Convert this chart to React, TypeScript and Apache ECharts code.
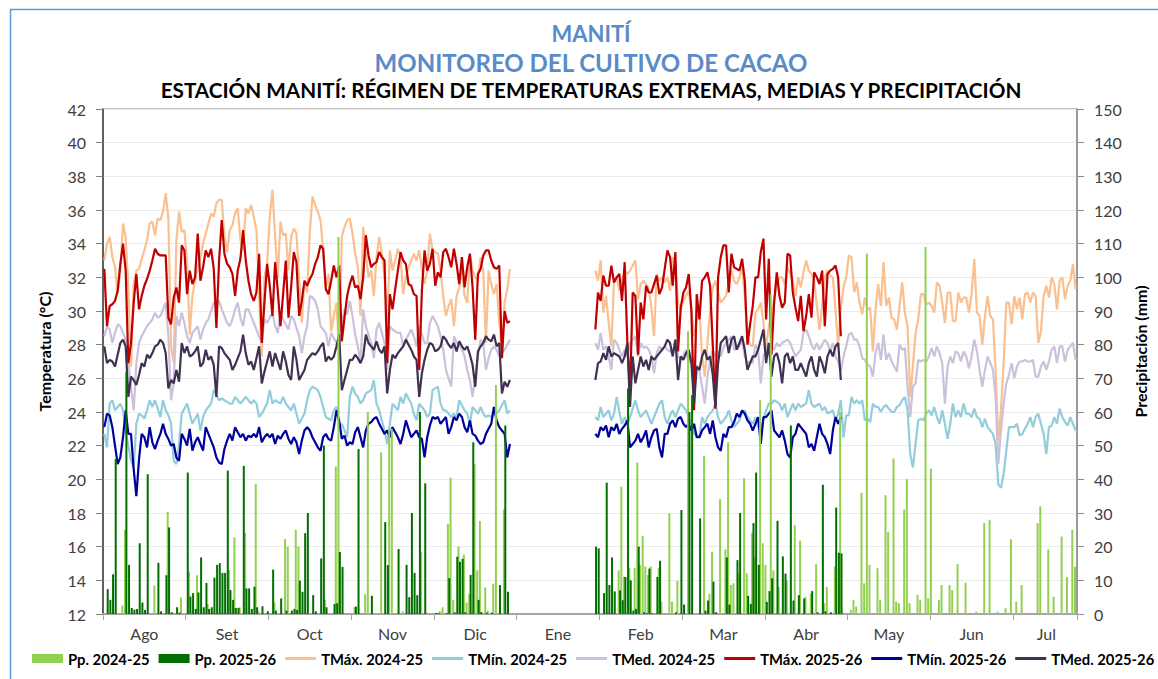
import React, { useEffect, useRef } from "react";
import * as echarts from "echarts";

const FONT = "Lato, 'Open Sans', sans-serif";

// Month blocks of 31 daily categories (Excel category axis), labels centred in each block
const monthNames = ["Ago", "Set", "Oct", "Nov", "Dic", "Ene", "Feb", "Mar", "Abr", "May", "Jun", "Jul"];
const monthDays = [31, 30, 31, 30, 31, 31, 28, 31, 30, 31, 30, 31];
const monthLabelIdx = [15, 46, 77, 108, 139, 170, 201, 232, 263, 294, 325, 353];
const monthTickEvery = 31;

// Segment A = 1 Ago .. 31 Dic (153 days); Segment B = from 1 Feb
const janGapDays = 31;

const tmax2425A = [
  33.0,34.0,34.4,33.2,32.6,31.0,32.4,35.2,34.4,31.4,
  26.7,31.6,32.4,32.5,33.1,33.6,34.2,35.2,35.3,34.5,
  35.5,35.4,35.9,37.0,35.5,27.9,26.9,34.2,35.9,34.7,
  34.8,32.9,28.6,30.9,31.8,32.6,33.2,34.0,34.6,35.2,
  35.8,35.6,36.4,36.6,36.6,34.4,33.5,34.8,35.1,35.8,
  36.1,34.2,33.6,36.1,35.8,36.3,35.6,34.8,31.0,27.3,
  32.0,32.8,35.6,37.2,34.4,32.0,35.3,34.5,34.6,32.4,
  34.4,34.9,34.6,32.0,29.3,31.8,31.1,34.7,36.8,36.3,
  35.9,35.4,33.6,31.4,32.2,28.8,29.7,30.5,27.7,34.4,
  35.0,35.4,35.5,34.6,33.4,32.6,29.7,35.0,33.4,32.0,
  32.4,30.9,33.2,34.4,33.4,32.0,29.3,33.6,32.4,33.0,
  33.7,33.2,31.0,32.0,32.6,33.0,33.4,33.0,33.6,32.5,
  31.6,32.4,34.6,33.6,33.5,33.4,32.4,30.9,29.7,30.3,
  30.7,29.1,30.9,31.4,32.4,30.9,30.5,33.4,32.4,32.0,
  31.8,33.2,32.4,28.1,32.4,31.6,31.0,31.6,29.3,27.7,
  30.5,31.3,32.5,
];
const tmin2425A = [
  22.7,21.9,24.5,24.7,24.1,24.3,24.5,24.1,22.9,22.0,
  21.1,20.7,23.3,23.9,23.8,23.6,24.1,24.7,24.3,24.7,
  24.2,23.7,24.7,24.1,23.8,23.3,21.1,20.9,22.1,23.9,
  24.2,24.5,23.9,23.3,23.6,23.9,22.9,23.7,24.1,24.3,
  24.5,25.3,25.0,24.7,24.8,24.7,24.6,24.5,24.5,24.9,
  24.7,24.5,24.7,24.9,24.7,24.5,24.7,24.5,23.7,23.9,
  24.2,24.5,25.3,24.5,24.7,24.6,24.5,24.9,24.5,24.3,
  24.1,24.5,23.9,23.3,23.6,23.9,24.7,25.3,25.5,25.4,
  25.3,24.9,24.3,23.7,23.6,23.5,24.1,24.3,23.1,23.3,
  22.9,22.5,24.9,25.5,25.1,24.9,24.5,24.7,25.1,25.2,
  25.3,25.9,24.5,24.1,23.5,22.9,22.1,23.3,24.5,24.3,
  24.1,24.9,24.5,25.1,24.8,24.5,23.9,23.5,24.5,24.3,
  24.1,23.7,23.9,25.3,25.4,25.5,24.5,24.1,24.1,23.9,
  23.7,23.9,23.7,24.7,24.4,24.1,23.9,23.3,24.3,24.1,
  23.9,24.3,23.9,23.7,23.8,23.7,24.1,23.9,24.1,24.4,
  24.7,23.9,24.1,
];
const tmed2425A = [
  28.5,29.1,28.9,28.1,28.7,29.2,29.1,28.7,28.3,27.0,
  25.5,24.1,26.9,28.1,28.5,28.8,29.1,29.3,29.5,29.9,
  29.6,29.7,30.1,30.5,28.5,24.7,25.7,29.7,29.1,29.9,
  29.3,28.5,28.1,28.7,28.9,29.1,28.3,28.9,29.3,29.5,
  30.0,30.5,30.4,30.6,30.1,29.7,29.3,29.1,29.5,30.1,
  30.5,29.6,29.1,30.1,30.1,29.7,29.3,28.9,28.5,28.1,
  29.5,29.3,29.6,29.9,29.1,28.7,29.9,29.5,29.2,28.9,
  29.7,29.5,29.0,28.5,27.5,28.5,29.1,30.9,30.8,30.6,
  30.1,29.1,28.9,28.7,27.9,28.7,28.4,28.1,27.7,29.3,
  30.1,29.8,30.6,29.7,28.6,27.9,26.9,30.1,29.1,28.6,
  28.1,27.2,28.9,29.3,28.7,28.1,26.5,29.1,28.9,28.8,
  28.7,28.7,27.9,28.3,28.6,28.9,28.5,27.9,29.1,28.6,
  28.1,28.1,29.3,29.7,29.4,29.1,28.5,27.7,26.5,26.0,
  25.5,28.5,28.1,28.1,27.7,27.3,26.5,25.9,24.9,26.1,
  27.3,28.3,28.1,26.5,27.2,27.7,27.9,27.7,27.3,27.5,
  27.7,28.0,28.3,
];
const tmax2526A = [
  32.5,29.1,30.3,30.4,30.6,31.2,32.8,34.0,32.4,26.9,
  28.1,30.5,32.2,30.1,30.9,31.5,31.9,32.4,33.0,33.7,
  33.4,33.3,33.3,33.3,29.6,29.2,30.8,31.4,30.5,33.9,
  33.6,31.0,32.4,31.6,32.0,34.6,31.8,32.6,33.6,33.2,
  33.7,32.5,29.0,33.0,35.4,33.4,32.8,32.6,32.2,30.9,
  32.4,33.1,34.8,33.0,31.8,31.0,30.6,31.1,33.4,28.1,
  30.5,32.8,31.5,29.7,32.9,31.2,29.1,31.0,33.0,29.6,
  31.4,33.5,32.9,29.7,30.6,31.8,31.5,31.9,32.2,32.8,
  33.2,33.9,33.7,31.3,31.0,31.8,32.7,32.0,32.7,28.2,
  29.6,30.9,31.6,32.1,31.4,31.5,30.7,32.0,34.5,33.3,
  32.6,32.8,32.9,33.5,33.2,33.0,26.9,31.0,30.1,31.3,
  32.4,33.5,33.0,32.8,31.6,31.5,31.0,30.9,26.5,31.2,
  33.6,32.4,32.8,33.7,31.5,32.3,32.0,33.5,33.7,33.2,
  32.6,33.7,32.8,31.6,33.2,31.4,32.6,33.4,31.4,28.3,
  32.2,32.5,33.3,33.6,33.6,33.0,32.6,32.5,32.7,27.2,
  30.0,29.3,29.4,
];
const tmin2526A = [
  23.1,23.9,23.8,23.1,22.0,20.9,21.3,22.5,24.1,22.7,
  22.7,20.6,19.0,21.2,22.7,22.5,21.9,23.1,22.2,21.8,
  22.3,22.7,23.3,22.7,22.4,22.0,22.1,21.3,21.1,22.7,
  22.4,22.0,23.0,21.7,22.2,22.5,22.1,21.7,23.1,22.7,
  22.3,21.9,21.3,21.0,20.9,21.8,22.3,22.7,22.3,23.1,
  22.8,22.5,22.7,22.3,22.6,22.5,22.7,22.5,23.1,22.2,
  22.5,22.7,22.5,22.7,22.1,22.6,22.4,22.7,22.9,22.4,
  22.1,22.5,22.2,21.5,22.3,22.9,23.1,22.9,22.5,22.2,
  21.9,21.7,22.5,22.7,22.4,22.3,23.1,24.1,23.5,22.4,
  22.6,22.0,22.2,22.1,22.8,23.1,22.5,21.9,22.9,23.3,
  23.4,23.6,23.7,23.3,23.0,22.7,22.9,22.5,23.1,22.8,
  22.5,22.1,22.7,23.5,23.0,22.5,22.7,22.9,22.5,22.4,
  21.3,22.5,23.2,23.7,23.6,23.7,23.3,23.5,23.7,22.7,
  23.1,23.7,23.5,23.9,23.7,23.1,22.8,23.5,22.7,22.6,
  22.3,22.1,22.2,22.7,23.0,23.3,24.3,23.5,23.1,22.9,
  22.7,21.3,22.1,
];
const tmed2526A = [
  27.9,26.9,27.1,27.0,26.7,27.4,28.1,28.3,27.9,24.9,
  26.1,25.9,25.6,26.2,26.9,26.7,27.4,27.2,27.5,27.9,
  28.0,28.3,28.1,27.5,25.4,25.9,25.7,26.5,25.8,28.1,
  27.5,27.9,27.3,27.4,27.6,27.9,26.7,26.9,27.7,27.1,
  27.3,26.8,24.9,27.9,27.8,27.5,27.3,27.1,26.5,26.8,
  27.2,27.6,28.6,27.5,26.8,27.0,26.5,27.2,27.9,25.7,
  26.4,27.0,27.6,26.7,27.5,27.0,26.5,27.6,27.0,26.2,
  25.9,27.9,27.1,25.9,26.2,26.5,27.1,27.3,27.5,27.4,
  27.6,27.9,28.1,27.0,27.3,27.1,27.3,27.9,28.6,25.3,
  25.9,26.5,27.1,27.1,27.4,27.2,26.9,27.3,28.6,28.1,
  27.9,27.7,28.2,27.7,27.5,27.9,25.1,26.5,27.4,27.2,
  27.5,27.7,27.9,28.3,28.0,27.7,27.3,27.1,24.9,26.3,
  27.1,27.7,28.1,28.0,27.6,27.7,27.9,28.5,28.3,28.0,
  27.8,28.1,27.6,28.2,27.9,27.7,27.9,27.4,26.8,25.5,
  27.6,27.9,28.1,28.5,28.3,28.2,28.6,27.9,28.1,25.1,
  25.8,25.5,25.9,
];

const tmax2425B = [
  32.4,31.8,33.0,29.9,30.9,29.3,27.9,31.8,32.0,31.2,
  31.8,32.4,32.2,32.4,32.7,33.0,30.7,31.6,31.8,31.6,
  31.4,30.2,28.5,32.2,31.8,32.0,31.7,32.0,31.2,33.2,
  32.8,30.5,30.1,30.6,30.9,31.2,30.1,28.5,29.4,30.1,
  27.3,26.1,28.1,30.0,31.4,31.8,31.1,30.5,30.7,30.9,
  31.8,32.4,31.8,31.6,32.0,32.6,30.9,28.5,28.0,27.9,
  29.9,30.1,30.5,29.3,27.9,29.1,29.7,30.7,31.5,32.0,
  32.0,31.6,32.6,32.2,31.8,30.9,32.0,31.4,32.3,33.0,
  32.4,32.2,31.8,30.3,28.9,30.3,32.0,32.4,32.1,32.0,
  30.1,27.9,30.2,31.4,32.0,33.3,33.2,31.1,31.7,30.5,
  29.8,30.8,30.1,30.2,27.6,30.1,31.6,30.3,32.9,30.3,
  30.8,29.6,29.5,28.9,30.3,31.7,29.9,29.1,24.9,26.7,
  28.7,29.5,31.0,31.0,30.4,30.5,30.3,29.9,31.7,31.5,
  30.5,29.3,31.1,31.1,29.4,29.4,31.1,30.5,30.8,30.8,
  29.9,31.0,33.1,29.9,29.7,28.0,29.7,30.9,29.7,29.5,
  26.5,22.3,24.1,26.9,30.5,30.5,29.2,30.9,30.1,30.8,
  29.5,31.0,31.1,30.5,31.1,30.9,28.1,28.8,30.9,31.5,
  30.8,32.0,31.6,30.1,31.8,32.0,30.7,31.5,31.8,32.8,
  31.3,
];
const tmin2425B = [
  23.7,23.5,24.3,23.7,23.9,24.1,23.5,23.9,24.9,24.0,
  23.3,23.7,23.3,23.7,24.2,24.7,24.1,23.7,23.9,24.1,
  23.7,23.3,23.7,24.1,24.5,24.7,23.7,23.3,23.8,24.1,
  23.7,24.1,24.5,24.3,24.1,23.7,23.3,22.7,22.6,22.5,
  23.7,23.3,23.7,23.9,24.1,24.5,23.7,23.3,23.5,23.7,
  24.1,23.5,23.1,23.3,23.5,23.9,24.1,23.7,23.5,23.3,
  23.7,23.1,22.9,23.6,24.1,24.5,24.5,24.7,24.6,24.5,
  24.1,24.5,23.7,24.1,24.5,24.1,24.5,24.3,24.4,24.5,
  25.3,24.5,24.3,24.4,24.5,24.1,24.3,23.9,24.0,24.1,
  23.5,23.9,24.7,22.5,23.8,23.8,24.9,24.5,24.7,24.5,
  24.7,23.5,23.6,23.4,24.5,24.3,24.3,24.0,24.3,24.4,
  24.2,24.0,24.0,24.3,24.4,24.7,24.9,24.1,21.5,20.7,
  22.1,23.5,23.6,23.5,23.9,24.1,23.8,24.3,23.7,23.3,
  24.1,23.3,22.4,23.3,24.5,23.7,24.1,23.7,24.5,23.9,
  23.9,23.7,24.2,23.7,23.6,23.1,23.6,23.1,22.9,22.7,
  22.1,19.7,19.5,20.3,21.7,23.1,23.1,23.1,23.3,22.6,
  22.7,23.0,23.3,23.7,23.1,23.7,23.9,23.3,22.7,21.5,
  23.1,23.2,23.7,23.3,24.2,23.7,23.4,23.2,23.7,23.3,
  22.9,
];
const tmed2425B = [
  28.1,27.7,28.7,27.7,27.9,27.3,26.5,28.3,28.1,27.7,
  27.3,27.7,27.3,28.1,28.3,28.5,27.3,28.1,27.8,27.9,
  27.7,27.3,26.3,27.5,27.9,27.7,27.9,27.7,27.6,27.5,
  28.3,27.3,27.1,27.4,27.7,26.9,27.3,26.9,26.7,26.5,
  25.5,24.5,26.1,27.0,27.7,27.3,27.6,27.3,27.8,28.1,
  28.3,28.5,27.7,27.8,27.9,28.3,27.3,26.9,27.0,26.9,
  28.0,27.7,25.7,27.3,27.7,28.1,27.9,27.7,28.1,27.9,
  28.1,28.2,28.3,28.1,27.7,27.3,27.5,27.7,28.7,28.9,
  28.5,28.0,27.7,28.1,27.7,28.0,28.3,28.1,27.6,28.1,
  27.3,27.0,26.4,27.3,27.9,28.6,28.7,28.3,28.3,27.9,
  27.2,27.1,26.8,26.7,26.1,27.5,28.1,27.1,28.6,27.1,
  27.5,27.0,26.7,26.4,28.0,27.7,27.8,25.5,23.7,25.5,
  25.7,27.1,27.0,27.1,27.0,27.3,27.8,27.3,27.9,27.5,
  26.9,24.5,26.7,27.3,26.9,27.6,27.5,27.0,27.6,27.3,
  26.6,27.3,28.3,27.6,26.5,25.5,26.5,27.3,26.9,26.5,
  24.9,20.9,22.9,24.5,25.7,26.2,26.9,26.0,26.7,27.0,
  27.0,27.1,27.0,27.0,27.1,26.1,26.1,26.7,27.0,26.5,
  27.0,27.7,27.9,26.9,27.9,27.9,27.0,27.7,27.9,28.1,
  27.1,
];
const tmax2526B = [
  28.9,31.1,30.6,32.1,31.5,31.5,32.7,31.7,32.0,32.2,
  30.6,32.9,28.1,25.2,31.1,30.9,27.4,30.5,29.5,31.5,
  31.1,31.1,31.6,32.1,31.0,31.4,32.5,33.6,33.2,31.5,
  33.5,27.6,30.2,31.1,31.4,32.2,30.0,24.1,31.0,29.5,
  31.8,32.0,32.3,31.5,28.0,24.2,32.0,33.2,33.9,33.9,
  31.1,33.4,32.6,32.5,32.4,33.1,31.8,28.0,29.2,30.3,
  32.0,32.0,33.5,34.3,29.5,33.1,27.4,30.5,32.3,30.9,
  30.2,30.5,33.4,33.3,31.1,30.2,29.4,30.9,28.8,29.7,
  31.0,29.6,32.3,32.0,31.6,32.4,29.1,32.2,32.4,32.5,
  32.7,32.0,28.5,
];
const tmin2526B = [
  22.7,22.5,23.1,22.9,23.2,22.5,23.1,22.9,23.3,22.7,
  23.0,23.2,23.5,21.9,22.1,22.3,22.7,22.2,22.5,22.9,
  21.9,22.5,22.9,23.0,21.9,21.3,22.7,22.7,23.3,23.5,
  23.1,23.6,23.7,23.3,23.1,23.3,22.9,23.3,22.5,22.5,
  22.9,23.1,23.3,22.7,23.5,22.5,21.9,21.7,22.7,22.5,
  23.1,23.1,23.4,23.9,23.7,24.1,23.9,23.5,23.3,22.9,
  23.3,23.7,22.1,23.7,23.7,23.9,24.1,22.9,22.7,22.5,
  22.9,22.3,21.5,21.3,22.5,22.7,23.3,23.1,22.9,22.7,
  21.9,22.1,21.7,22.5,23.3,22.7,22.5,22.1,21.5,22.9,
  23.7,23.3,23.7,
];
const tmed2526B = [
  25.9,26.9,27.0,27.5,27.1,27.9,27.3,27.5,27.4,27.3,
  26.9,27.3,28.1,24.3,27.3,25.7,26.5,27.3,26.7,27.1,
  26.5,27.3,27.1,27.3,27.5,27.7,27.9,28.3,28.1,27.3,
  28.3,25.9,27.3,27.1,27.5,27.7,26.9,24.5,26.7,26.5,
  27.3,27.7,27.1,27.3,26.2,24.3,26.9,28.1,28.3,28.5,
  27.5,28.3,28.5,27.7,28.1,28.5,27.7,26.5,26.9,27.3,
  27.3,27.7,28.3,28.9,26.9,28.1,26.1,27.3,27.5,26.9,
  25.7,27.3,27.5,26.9,27.3,26.5,26.5,26.9,26.5,26.1,
  26.9,27.3,26.5,26.1,27.3,26.9,26.3,27.3,27.7,27.3,
  27.9,28.1,25.9,
];

// Daily precipitation (mm): [day index from 1 Ago, mm]; days not listed had no rain
const pp2425: [number, number][] = [
  [7,2.5],[8,25],[19,8.5],[24,30.3],[29,4.9],[32,12.6],[35,11.5],[39,3],[47,13.1],[49,22.8],
  [51,2],[53,24.1],[57,38.6],[58,0.8],[64,3.4],[68,22.3],[69,20],[72,25],[73,20],[83,4.2],
  [87,43.8],[88,112],[94,2],[98,5.9],[99,60],[104,48],[107,55],[108,55],[112,0.8],[119,18.5],
  [126,0.8],[127,2],[129,26.8],[130,40.5],[131,4.2],[133,20],[135,17.6],[136,3.4],[137,5.9],[139,44.5],
  [140,13],[141,27.6],[143,7.9],[144,1],[146,9],[147,68],[150,31],
  [193,13],[194,37.8],[195,11.1],[197,13.6],[199,13.6],[200,45],[201,14.5],[202,23.2],[203,14.1],[204,11.6],
  [205,14.1],[208,13.6],[209,3.7],[212,29.9],[213,3.7],[215,9.8],[219,84],[225,47],[227,6],[228,18.5],
  [231,34.1],[233,19.2],[234,51],[235,8.6],[236,9.1],[238,12.1],[240,40.3],[241,12.1],[243,24.1],[244,16.9],
  [246,63.5],[247,21],[248,14.6],[250,95],[251,13],[253,8],[256,10],[259,26.4],[261,21.8],[263,5.1],
  [265,6.1],[267,14.8],[270,3.2],[271,8],[274,14.1],[276,60],[280,1.2],[281,4.2],[282,2.2],[284,36],
  [285,9.1],[286,107],[287,14.6],[290,13.6],[291,4.2],[293,35.3],[294,24.4],[296,46.2],[297,3.7],[298,3.2],
  [300,31],[301,40],[302,3.2],[305,5.7],[306,4.2],[308,109],[309,4.7],[310,43.2],[313,4.2],[314,8.6],
  [317,8.6],[318,7.1],[320,14.8],[323,9.3],[327,0.7],[330,27],[332,28],[335,0.7],[338,1.7],[340,22.2],
  [342,3.7],[344,8.6],[350,27],[351,32],[354,19.2],[356,5.1],[359,23],[361,11],[363,25],[364,14],
];
const pp2526: [number, number][] = [
  [1,7.4],[2,4.2],[3,11.8],[4,46],[8,72],[9,14.6],[10,1.8],[11,1.3],[12,1.5],[13,21],
  [14,3.4],[15,1.2],[16,41.5],[20,15.2],[21,0.8],[23,11.5],[24,25.7],[25,0.5],[27,2],[28,0.4],
  [31,42],[32,5.2],[33,6.2],[34,1.5],[35,6.4],[36,16.8],[37,2],[38,9.2],[39,1.5],[40,2],
  [41,10.8],[42,14.6],[43,15.1],[44,12.2],[45,12.2],[46,42.6],[47,7.1],[48,4.2],[49,1.8],[50,1.8],
  [52,44],[53,7.6],[54,7.6],[55,1.5],[56,8.1],[57,2],[59,2.3],[61,0.8],[63,13.2],[64,1],
  [66,4.6],[68,1],[70,1],[71,1.5],[72,1.2],[73,9.9],[74,6.6],[75,24],[76,30],[78,5.6],
  [79,0.8],[81,16.5],[82,50],[83,2],[86,3],[87,3.2],[88,18.4],[89,14],[94,2.2],[95,49],
  [100,5.4],[105,27.3],[106,14.5],[110,19.3],[113,14.6],[114,5],[115,30],[116,12.2],[117,5.6],[118,60],
  [120,38.8],[124,0.3],[125,0.3],[128,0.3],[129,10.7],[131,0.5],[132,17],[133,15.5],[134,16.4],[135,0.5],
  [137,11.6],[138,51],[140,4.2],[141,0.6],[143,0.4],[145,0.4],[148,8.6],[150,56],[151,6.6],
  [184,20],[185,19.5],[187,6.2],[188,39],[189,8.6],[190,16.8],[191,6.7],[193,7],[194,4.1],[195,11],
  [196,67],[197,10],[198,1],[199,1.5],[200,20],[202,0.5],[203,0.3],[204,13.5],[205,0.2],[207,11],
  [208,15.8],[214,0.5],[216,30.9],[217,2.8],[219,60],[220,65],[223,28.4],[225,1],[226,4],[228,9.6],
  [229,0.5],[233,16.8],[234,2.8],[237,16],[238,30],[241,5.4],[242,3],[243,27],[244,42],[245,14.6],
  [248,3.6],[249,6.8],[250,10.6],[252,27.7],[254,17.1],[255,12],[257,56],[258,4],[260,5.6],[262,4.6],
  [265,6.8],[267,0.5],[269,38.4],[270,0.8],[272,0.5],[274,31.6],[275,18.2],[276,18],
];

const totalDays = monthDays.reduce((a, b) => a + b, 0);

function buildCategories(): string[] {
  const out: string[] = [];
  for (let m = 0; m < 12; m++) {
    for (let d = 1; d <= monthDays[m]; d++) out.push(`${d}-${monthNames[m]}`);
  }
  return out;
}

function joinSeason(a: number[], b: number[]): (number | null)[] {
  const out: (number | null)[] = [...a];
  while (out.length < a.length + janGapDays) out.push(null);
  out.push(...b);
  while (out.length < totalDays) out.push(null);
  return out;
}

function dailyFromPairs(pairs: [number, number][]): (number | null)[] {
  const out: (number | null)[] = new Array(totalDays).fill(null);
  pairs.forEach(([i, v]) => {
    out[i] = v;
  });
  return out;
}

const LINE_ICON = "path://M0,0L31,0L31,3L0,3Z";

export default function App() {
  const ref = useRef<HTMLDivElement>(null);

  useEffect(() => {
    document.body.style.margin = "0";
    const chart = echarts.init(ref.current!, undefined, { renderer: "svg" });
    const categories = buildCategories();

    const lineSeries = (name: string, data: (number | null)[], color: string) => ({
      name,
      type: "line",
      data,
      yAxisIndex: 0,
      symbol: "none",
      showSymbol: false,
      connectNulls: false,
      lineStyle: { width: 2.2, color },
      itemStyle: { color },
      z: 2,
    });

    const barSeries = (name: string, data: (number | null)[], color: string) => ({
      name,
      type: "bar",
      data,
      yAxisIndex: 1,
      barWidth: 2,
      barGap: "-30%",
      itemStyle: { color },
      z: 3,
    });

    const option = {
      animation: false,
      backgroundColor: "#ffffff",
      textStyle: { fontFamily: FONT },
      title: [
        {
          text: "MANITÍ",
          left: 586,
          textAlign: "center",
          top: 15,
          textStyle: { fontFamily: FONT, fontSize: 22, fontWeight: "bold", color: "#5A8AC8", lineHeight: 26 },
        },
        {
          text: "MONITOREO DEL CULTIVO DE CACAO",
          left: 586,
          textAlign: "center",
          top: 44,
          textStyle: { fontFamily: FONT, fontSize: 24, fontWeight: "bold", color: "#5A8AC8", lineHeight: 26 },
        },
        {
          text: "ESTACIÓN MANITÍ: RÉGIMEN DE TEMPERATURAS EXTREMAS, MEDIAS Y PRECIPITACIÓN",
          left: 586,
          textAlign: "center",
          top: 73,
          textStyle: { fontFamily: FONT, fontSize: 20.7, fontWeight: "bold", color: "#000000", lineHeight: 24 },
        },
      ],
      graphic: [
        {
          type: "rect",
          silent: true,
          z: -10,
          shape: { x: 10.5, y: 9.5, width: 1300, height: 800 },
          style: { fill: "none", stroke: "#5B9BD5", lineWidth: 1.5 },
        },
      ],
      legend: {
        left: 32,
        top: 651,
        padding: 0,
        width: 1400,
        itemWidth: 31,
        itemHeight: 9,
        itemGap: 9,
        textStyle: { fontFamily: FONT, fontSize: 14.8, fontWeight: "bold", color: "#000000" },
        data: [
          { name: "Pp. 2024-25", icon: "rect" },
          { name: "Pp. 2025-26", icon: "rect" },
          { name: "TMáx. 2024-25", icon: LINE_ICON },
          { name: "TMín. 2024-25", icon: LINE_ICON },
          { name: "TMed. 2024-25", icon: LINE_ICON },
          { name: "TMáx. 2025-26", icon: LINE_ICON },
          { name: "TMín. 2025-26", icon: LINE_ICON },
          { name: "TMed. 2025-26", icon: LINE_ICON },
        ],
      },
      grid: {
        left: 103,
        right: 81,
        top: 109,
        bottom: 65,
        show: true,
        borderColor: "#7F7F7F",
        borderWidth: 1,
      },
      xAxis: {
        type: "category",
        data: categories,
        boundaryGap: true,
        axisLine: { show: true, lineStyle: { color: "#A6A6A6", width: 2 } },
        axisTick: {
          show: true,
          alignWithLabel: false,
          interval: (i: number) => i % monthTickEvery === 0,
          length: 6,
          lineStyle: { color: "#A6A6A6", width: 1 },
        },
        axisLabel: {
          interval: (i: number) => monthLabelIdx.includes(i),
          formatter: (_v: string, i: number) => monthNames[monthLabelIdx.indexOf(i)] ?? "",
          margin: 11,
          fontSize: 16,
          color: "#404040",
          fontFamily: FONT,
        },
        splitLine: { show: false },
      },
      yAxis: [
        {
          type: "value",
          position: "left",
          min: 12,
          max: 42,
          interval: 2,
          name: "Temperatura (°C)",
          nameLocation: "middle",
          nameGap: 51,
          nameRotate: 90,
          nameTextStyle: { fontFamily: FONT, fontSize: 16, fontWeight: "bold", color: "#000000", padding: [0, 0, 0, 20] },
          axisLine: { show: true, lineStyle: { color: "#404040", width: 1.5 } },
          axisTick: { show: true, length: 7, lineStyle: { color: "#7F7F7F" } },
          axisLabel: { fontSize: 16, color: "#404040", margin: 17, fontFamily: FONT },
          splitLine: { show: true, lineStyle: { color: "#EBEBEB", width: 1 } },
        },
        {
          type: "value",
          position: "right",
          min: 0,
          max: 150,
          interval: 10,
          name: "Precipitación (mm)",
          nameLocation: "middle",
          nameGap: 52,
          nameRotate: 90,
          nameTextStyle: { fontFamily: FONT, fontSize: 16, fontWeight: "bold", color: "#000000", padding: [0, 0, 0, 20] },
          axisLine: { show: true, lineStyle: { color: "#8C8C8C", width: 1.5 } },
          axisTick: { show: true, length: 7, lineStyle: { color: "#8C8C8C" } },
          axisLabel: { fontSize: 16, color: "#404040", margin: 17, fontFamily: FONT },
          splitLine: { show: false },
        },
      ],
      series: [
        lineSeries("TMáx. 2024-25", joinSeason(tmax2425A, tmax2425B), "#FAC090"),
        lineSeries("TMín. 2024-25", joinSeason(tmin2425A, tmin2425B), "#92CDDC"),
        lineSeries("TMed. 2024-25", joinSeason(tmed2425A, tmed2425B), "#CCC1DA"),
        lineSeries("TMáx. 2025-26", joinSeason(tmax2526A, tmax2526B), "#C00000"),
        lineSeries("TMín. 2025-26", joinSeason(tmin2526A, tmin2526B), "#00009C"),
        lineSeries("TMed. 2025-26", joinSeason(tmed2526A, tmed2526B), "#403152"),
        barSeries("Pp. 2024-25", dailyFromPairs(pp2425), "#92D050"),
        barSeries("Pp. 2025-26", dailyFromPairs(pp2526), "#006E00"),
      ],
    };

    chart.setOption(option as any);
    return () => chart.dispose();
  }, []);

  return <div ref={ref} style={{ width: 1158, height: 679 }} />;
}
